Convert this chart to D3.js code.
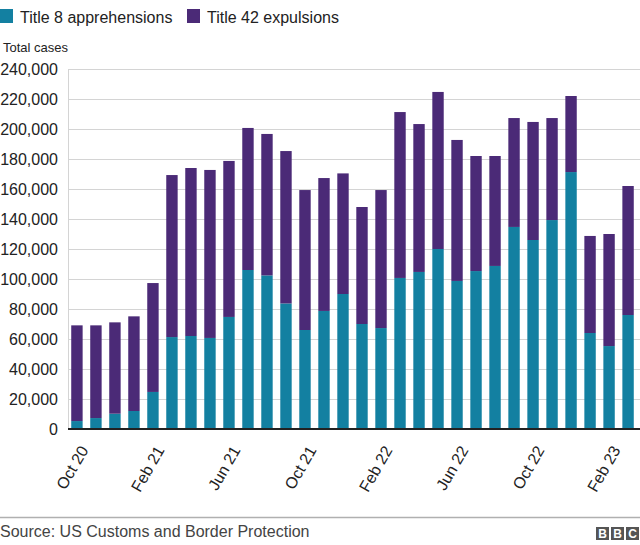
<!DOCTYPE html>
<html><head><meta charset="utf-8">
<script src="https://cdn.jsdelivr.net/npm/d3@7"></script>
<style>
html,body{margin:0;padding:0;background:#fff;}
svg{display:block;font-family:"Liberation Sans",Arial,sans-serif;}
</style></head>
<body><svg id="c" width="640" height="545"></svg>
<script>
const months = ["Oct 20","Nov 20","Dec 20","Jan 21","Feb 21","Mar 21","Apr 21","May 21","Jun 21","Jul 21","Aug 21","Sep 21","Oct 21","Nov 21","Dec 21","Jan 22","Feb 22","Mar 22","Apr 22","May 22","Jun 22","Jul 22","Aug 22","Sep 22","Oct 22","Nov 22","Dec 22","Jan 23","Feb 23","Mar 23"];
const title8 = [5300,7300,10200,12000,24700,61300,62000,60700,74700,106000,102400,83700,66000,78700,90000,70000,67300,100700,104700,120000,98700,105300,108700,134700,126000,139300,171300,64000,55300,76000];
const totals = [69100,69100,71100,75100,97300,169300,174000,172700,178700,200700,196700,185300,159300,167300,170400,148000,159300,211300,203300,224700,192700,182000,182000,207300,204700,207300,222000,128700,130000,162000];
const title42 = totals.map((t,i)=>t-title8[i]);
const tickLabels = ["Oct 20","Feb 21","Jun 21","Oct 21","Feb 22","Jun 22","Oct 22","Feb 23"];
const yTicks = [0,20000,40000,60000,80000,100000,120000,140000,160000,180000,200000,220000,240000];
const seriesNames = ["Title 8 apprehensions","Title 42 expulsions"];
const colors = ["#1380a1","#4b2a77"];

(function(){
const svg = d3.select("#c");
const L = 68, R = 637, T = 69, B = 429;
const x = d3.scaleBand().domain(months).range([L, R]).paddingInner(0.4).paddingOuter(0.17);
const y = d3.scaleLinear().domain([0,240000]).range([B, T]);

// legend
const lg = svg.append("g");
const legX = [0, 187];
seriesNames.forEach((n,i)=>{
  lg.append("rect").attr("x",legX[i]).attr("y",9).attr("width",13).attr("height",14).attr("fill",colors[i]);
  lg.append("text").attr("x",legX[i]+20).attr("y",23).attr("font-size",16).attr("fill","#222").text(n);
});
svg.append("text").attr("x",3).attr("y",52).attr("font-size",13).attr("fill","#222").text("Total cases");

// gridlines
svg.append("g").selectAll("line").data(yTicks.slice(1)).join("line")
  .attr("x1",L).attr("x2",640).attr("y1",d=>y(d)+0.5).attr("y2",d=>y(d)+0.5)
  .attr("stroke","#d4d4d4").attr("stroke-width",1);
svg.append("line").attr("x1",L+0.5).attr("x2",L+0.5).attr("y1",T).attr("y2",B).attr("stroke","#d4d4d4");

// y labels
const fmt = d3.format(",");
svg.append("g").selectAll("text").data(yTicks).join("text")
  .attr("x",58).attr("y",d=>y(d)+6).attr("text-anchor","end").attr("font-size",16).attr("fill","#222").text(d=>fmt(d));

// bars
const stack = d3.stack().keys([0,1]).value((d,k)=> k===0 ? d.a : d.b);
const rows = months.map((m,i)=>({m, a:title8[i], b:title42[i]}));
const layers = stack(rows);
svg.append("g").selectAll("g").data(layers).join("g").attr("fill",(d,i)=>colors[i])
  .selectAll("rect").data(d=>d).join("rect")
  .attr("x",d=>x(d.data.m)).attr("width",x.bandwidth())
  .attr("y",d=>y(d[1])).attr("height",d=>y(d[0])-y(d[1]));

// baseline
svg.append("line").attr("x1",L).attr("x2",640).attr("y1",B).attr("y2",B).attr("stroke","#222").attr("stroke-width",2);

// x labels
svg.append("g").selectAll("text").data(tickLabels).join("text")
  .attr("transform",d=>`translate(${x(d)+x.bandwidth()/2+12},${B+21}) rotate(-60)`)
  .attr("text-anchor","end").attr("font-size",16).attr("fill","#222").text(d=>d);

// footer
svg.append("line").attr("x1",0).attr("x2",640).attr("y1",517.5).attr("y2",517.5).attr("stroke","#b0b0b0").attr("stroke-width",1.5);
svg.append("text").attr("x",0).attr("y",537).attr("font-size",16).attr("fill","#444").text("Source: US Customs and Border Protection");
const bbc = svg.append("g");
["B","B","C"].forEach((l,i)=>{
  bbc.append("rect").attr("x",596+i*15).attr("y",527).attr("width",13).attr("height",13).attr("fill","#555");
  bbc.append("text").attr("x",596+i*15+6.5).attr("y",538).attr("text-anchor","middle").attr("font-size",12).attr("font-weight","bold").attr("fill","#fff").text(l);
});
})();
</script></body></html>
